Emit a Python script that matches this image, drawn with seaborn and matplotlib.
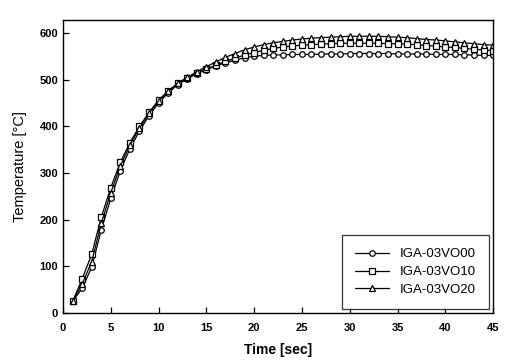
import matplotlib
matplotlib.use("Agg")
import matplotlib.pyplot as plt
import seaborn as sns
import pandas as pd

# time axis, one reading per second
time_s = list(range(1, 46))

# temperature curves (deg C)
temp_vo00 = [25, 53, 98, 178, 246, 305, 352, 390, 423, 450,
             472, 489, 502, 513, 521, 530, 536, 542, 547, 550,
             552, 553, 553, 554, 554, 554, 555, 555, 555, 556,
             556, 556, 556, 556, 555, 555, 555, 555, 554, 554,
             554, 553, 553, 552, 552]
temp_vo10 = [25, 73, 126, 205, 269, 323, 365, 400, 430, 456,
             476, 492, 504, 514, 523, 531, 539, 546, 553, 558,
             563, 567, 570, 572, 574, 575, 576, 577, 578, 578,
             578, 578, 578, 577, 577, 576, 575, 573, 572, 570,
             569, 567, 565, 564, 562]
temp_vo20 = [25, 62, 110, 192, 258, 315, 360, 396, 428, 454,
             475, 492, 505, 517, 528, 538, 548, 556, 564, 570,
             575, 579, 582, 585, 587, 589, 590, 591, 592, 593,
             593, 593, 593, 592, 591, 590, 588, 586, 585, 583,
             581, 579, 577, 575, 574]

series = ["IGA-03VO00", "IGA-03VO10", "IGA-03VO20"]
markers = ["o", "s", "^"]

df = pd.concat([
    pd.DataFrame({"time": time_s, "temp": v, "alloy": name})
    for name, v in zip(series, [temp_vo00, temp_vo10, temp_vo20])
])

sns.set_style("ticks")
plt.rcParams["font.family"] = ["Liberation Sans", "DejaVu Sans"]
plt.rcParams["text.color"] = "black"
plt.rcParams["axes.labelcolor"] = "black"

fig = plt.figure(figsize=(5.06, 3.62), dpi=100)
ax = fig.add_axes([0.1245, 0.135, 0.85, 0.81])

for name, mk in zip(series, markers):
    sns.lineplot(data=df[df["alloy"] == name], x="time", y="temp", ax=ax,
                 color="black", linewidth=0.9, marker=mk, markersize=4,
                 markerfacecolor="white", markeredgecolor="black",
                 markeredgewidth=0.9, label=name)

ax.set_xlim(0, 45)
ax.set_ylim(0, 628)
ax.set_xticks(range(0, 46, 5))
ax.set_yticks(range(0, 601, 100))
ax.tick_params(direction="in", length=4, width=0.9, labelsize=8,
               colors="black")
ax.tick_params(axis="x", pad=7)
for lbl in ax.get_xticklabels() + ax.get_yticklabels():
    lbl.set_fontweight("bold")
for sp in ax.spines.values():
    sp.set_visible(True)
    sp.set_linewidth(1.0)
    sp.set_color("black")

ax.set_xlabel("Time [sec]", fontsize=10, fontweight="bold", labelpad=7)
ax.set_ylabel("Temperature [°C]", fontsize=10.5, labelpad=9)

leg = ax.legend(loc="lower right", bbox_to_anchor=(1.0, 0.0), fontsize=9.5,
                frameon=True, fancybox=False, edgecolor="black",
                borderaxespad=0.3, handlelength=2.6, borderpad=1.0,
                labelspacing=0.42)
leg.get_frame().set_linewidth(0.9)

fig.savefig("out.png", dpi=100)
